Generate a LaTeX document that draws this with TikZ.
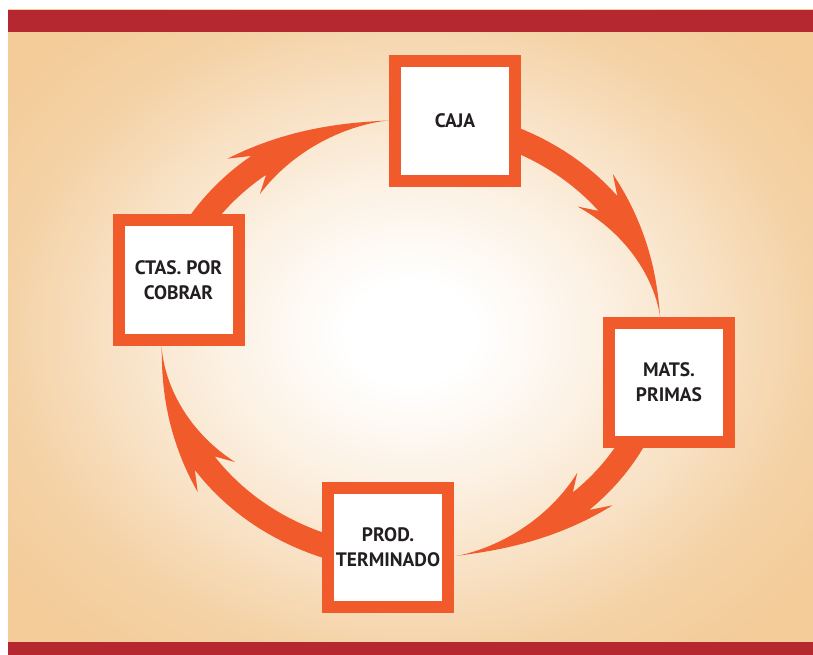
\documentclass[tikz,border=0pt]{standalone}
\usepackage{fontspec}
\setmainfont{PT Sans}
\usetikzlibrary{calc}

\definecolor{cycleorange}{HTML}{F15A2B}
\definecolor{barred}{HTML}{B5282F}
\definecolor{bgtan}{HTML}{F3CC9A}
\definecolor{labelgray}{HTML}{231F20}

\pgfdeclareradialshading{bgglow}{\pgfpoint{0bp}{0bp}}{color(0bp)=(white); color(4bp)=(white);
  color(12bp)=(bgtan!28!white); color(19bp)=(bgtan!60!white); color(25bp)=(bgtan!88!white);
  color(31bp)=(bgtan); color(50bp)=(bgtan)}

\pgfdeclarelayer{back}
\pgfdeclarelayer{mid}
\pgfsetlayers{back,mid,main}

% half axes of the ring, in pt
\newcommand\ringrx{187.5}
\newcommand\ringry{165}
\newcommand\headw{18*abs(\x-\angtip)/37*sqrt(abs(\x-\angtip)/37)}

% ring arrow: leaves node #1, long head ends on anchor #2
\newcommand\ringarrow[2]{%
  \path let \p1=($(#1)-(ctr)$), \p2=($(#2)-(ctr)$) in
    \pgfextra{\pgfmathsetmacro\angsrc{atan2(\y1/\ringry,\x1/\ringrx)}%
      \pgfmathsetmacro\angtip{atan2(\y2/\ringry,\x2/\ringrx)}%
      \xdef\angsrc{\angsrc}\xdef\angtip{\angtip}};
  \pgfmathsetmacro\angbarb{\angtip+37}%
  \pgfmathsetmacro\angnotch{\angbarb-4.5}%
  \begin{scope}[shift={(ctr)},x=1pt,y=1pt]
    \fill[cycleorange]
      plot[domain=\angsrc:\angnotch,samples=30] ({(\ringrx+9)*cos(\x)},{(\ringry+9)*sin(\x)})
      -- ({(\ringrx+18)*cos(\angbarb)},{(\ringry+18)*sin(\angbarb)})
      -- plot[domain=\angbarb:\angtip,samples=40] ({(\ringrx+\headw)*cos(\x)},{(\ringry+\headw)*sin(\x)})
      -- plot[domain=\angtip:\angbarb,samples=40] ({(\ringrx-\headw)*cos(\x)},{(\ringry-\headw)*sin(\x)})
      -- ({(\ringrx-18)*cos(\angbarb)},{(\ringry-18)*sin(\angbarb)})
      -- plot[domain=\angnotch:\angsrc,samples=30] ({(\ringrx-9)*cos(\x)},{(\ringry-9)*sin(\x)})
      -- cycle;
  \end{scope}}

\tikzset{
  stage/.style={draw=cycleorange, line width=9pt, fill=white, minimum width=90pt,
    minimum height=89.5pt, inner sep=0pt, align=center, text=labelgray,
    font=\bfseries\fontsize{14.6}{19}\selectfont}
}

\begin{document}
\begin{tikzpicture}[x=0.75pt,y=-0.75pt]
\useasboundingbox (0,0) rectangle (813,655);

\begin{pgfonlayer}{back}
\fill[white] (0,0) rectangle (813,655);
\shade[shading=bgglow] (8,10) rectangle (813,655);
\fill[barred] (8,10) rectangle (813,32);
\fill[barred] (8,642) rectangle (813,655);
\end{pgfonlayer}

\coordinate (ctr) at (411.5,339.5);
\node[stage] (caja) at (455,121) {CAJA};
\node[stage] (mats) at (669,382.5) {MATS.\\PRIMAS};
\node[stage] (prod) at (388,547.5) {PROD.\\TERMINADO};
\node[stage] (ctas) at (178.5,280) {CTAS. POR\\COBRAR};

\begin{pgfonlayer}{mid}
\ringarrow{caja}{mats.north}
\ringarrow{mats}{prod.east}
\ringarrow{prod}{ctas.south}
\ringarrow{ctas}{caja.west}
\end{pgfonlayer}
\end{tikzpicture}
\end{document}
